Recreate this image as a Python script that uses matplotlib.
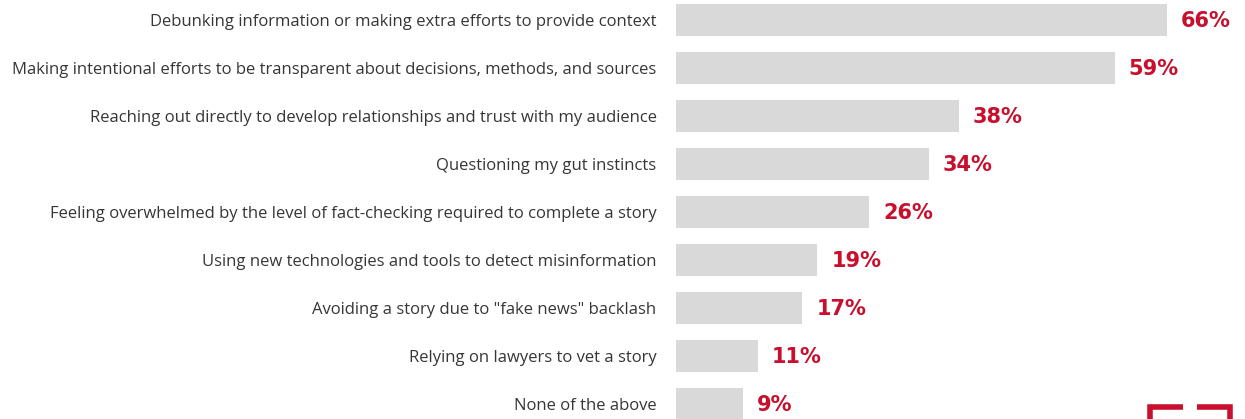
import matplotlib.pyplot as plt
from matplotlib.lines import Line2D

categories = [
    "Debunking information or making extra efforts to provide context",
    "Making intentional efforts to be transparent about decisions, methods, and sources",
    "Reaching out directly to develop relationships and trust with my audience",
    "Questioning my gut instincts",
    "Feeling overwhelmed by the level of fact-checking required to complete a story",
    "Using new technologies and tools to detect misinformation",
    'Avoiding a story due to "fake news" backlash',
    "Relying on lawyers to vet a story",
    "None of the above",
]
values = [66, 59, 38, 34, 26, 19, 17, 11, 9]
value_labels = ["66%", "59%", "38%", "34%", "26%", "19%", "17%", "11%", "9%"]

bar_color = "#d9d9d9"
red = "#c8102e"
text_color = "#363636"

fig = plt.figure(figsize=(12.45, 4.19), dpi=100)
ax = fig.add_axes([676 / 1245, 0, 569 / 1245, 1])

ypos = list(range(len(values)))
ax.barh(ypos, values, height=0.667, color=bar_color, left=0)

for y, v, lab in zip(ypos, values, value_labels):
    ax.annotate(lab, (v, y), xytext=(10, -1), textcoords="offset points",
                ha="left", va="center", color=red, fontsize=15,
                fontweight="bold", family="DejaVu Sans")

ax.set_xlim(0, 569 / 7.44)
ax.set_ylim((419 - 20) / 48, -20 / 48)
ax.set_yticks(ypos)
ax.set_yticklabels(categories, fontsize=11.95, color=text_color, family="Open Sans")
ax.tick_params(axis="y", length=0, pad=14)
ax.set_xticks([])
for s in ax.spines.values():
    s.set_visible(False)

# corner brackets of the logo, bottom right
lw = 4
segs = [
    ([1150, 1150, 1183], [419, 407, 407]),
    ([1197, 1230, 1230], [407, 407, 419]),
]
for xs, ys in segs:
    fig.add_artist(Line2D([x / 1245 for x in xs], [1 - y / 419 for y in ys],
                          color=red, lw=lw, solid_joinstyle="miter",
                          solid_capstyle="butt"))

fig.savefig("out.png", dpi=100, facecolor="white")
